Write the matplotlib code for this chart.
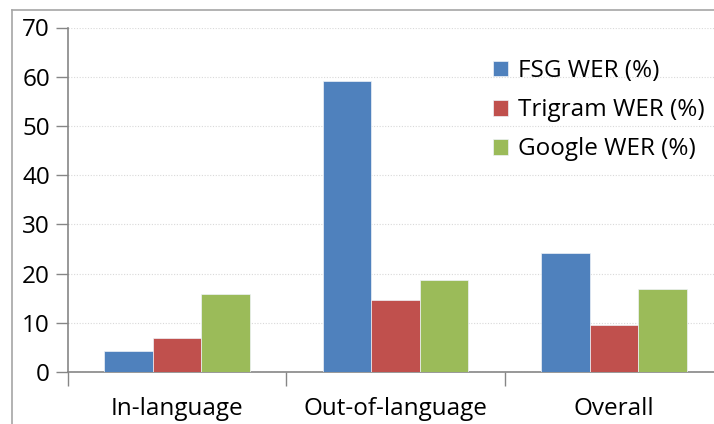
import matplotlib
matplotlib.use("Agg")
import matplotlib.pyplot as plt
from matplotlib.lines import Line2D
import numpy as np

categories = ["In-language", "Out-of-language", "Overall"]
series_names = ["FSG WER (%)", "Trigram WER (%)", "Google WER (%)"]
fsg = [4.3, 59.2, 24.1]
trigram = [6.9, 14.7, 9.6]
google = [15.9, 18.7, 16.8]
yticks = [0, 10, 20, 30, 40, 50, 60, 70]

colors = ["#4F81BD", "#C0504D", "#9BBB59"]

plt.rcParams['font.family'] = ['Open Sans', 'DejaVu Sans']

W, H = 714, 424
fig = plt.figure(figsize=(W / 100, H / 100), dpi=100)
ax = fig.add_axes([68 / W, (H - 372) / H, (723 - 68) / W, (372 - 27.5) / H])

x = np.arange(len(categories))
bw = 48.5 / 218.5
for i, (vals, name) in enumerate(zip([fsg, trigram, google], series_names)):
    ax.bar(x + (i - 1) * bw, vals, width=bw, color=colors[i], label=name,
           edgecolor="#eef2f8", linewidth=0.5, zorder=3)

ax.set_xlim(-0.5, len(categories) - 0.5)
ax.set_ylim(0, 70)
ax.set_yticks(yticks)
ax.set_yticklabels([str(t) for t in yticks], fontsize=17.5)
ax.set_xticks(x)
ax.set_xticklabels(categories, fontsize=17.5)
ax.tick_params(axis='x', length=0, pad=18)
ax.set_xticks(np.arange(len(categories) + 1) - 0.5, minor=True)
ax.tick_params(axis='x', which='minor', length=10, color="#868686", width=1)
ax.tick_params(axis='y', length=9, color="#868686", width=1, pad=4)

for s in ["top", "right"]:
    ax.spines[s].set_visible(False)
for s in ["left", "bottom"]:
    ax.spines[s].set_color("#868686")
    ax.spines[s].set_linewidth(1.2)

ax.yaxis.grid(True, linestyle=(0, (1, 1.5)), color="#d9d9d9", linewidth=0.8, zorder=0)
ax.set_axisbelow(True)

leg = ax.legend(loc="upper left", bbox_to_anchor=((481 - 68) / (723 - 68), (372 - 47) / (372 - 27.5)),
                frameon=False, fontsize=17.5, handlelength=0.62, handleheight=0.62,
                handletextpad=0.4, labelspacing=0.62, borderpad=0)

# outer chart frame (cropped)
fig.add_artist(Line2D([12 / W, 12 / W], [0, (H - 10) / H], transform=fig.transFigure,
                      color="#a6a6a6", linewidth=1.2))
fig.add_artist(Line2D([12 / W, 1], [(H - 10) / H, (H - 10) / H], transform=fig.transFigure,
                      color="#a6a6a6", linewidth=1.2))

fig.savefig("out.png", dpi=100)
